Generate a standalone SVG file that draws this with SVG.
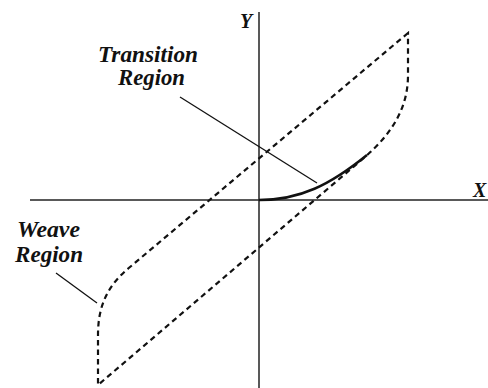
<svg xmlns="http://www.w3.org/2000/svg" width="488" height="388" viewBox="0 0 488 388">
<style>
.axis{stroke:#222;stroke-width:1.5;fill:none}
.dash{stroke:#111;stroke-width:2.2;fill:none;stroke-dasharray:5.5 4}
.solid{stroke:#111;stroke-width:2.5;fill:none}
.lead{stroke:#111;stroke-width:1.3;fill:none}
.lbl{font-family:"Liberation Serif","Times New Roman",serif;font-style:italic;font-weight:bold;font-size:23px;fill:#111}
.ax{font-family:"Liberation Serif","Times New Roman",serif;font-style:italic;font-weight:bold;font-size:20px;fill:#111}
</style>
<rect width="488" height="388" fill="#fff"/>
<g id="axes">
<line class="axis" x1="259" y1="12" x2="259" y2="388"/>
<line class="axis" x1="30" y1="200" x2="488" y2="200"/>
<text class="ax" x="240" y="28">Y</text>
<text class="ax" x="473" y="197">X</text>
</g>
<g id="loop">
<path class="dash" d="M408,33 L130,267 C108,285 98,305 98,335 L98,385 L365,157 C390,135 408,110 408,75 Z"/>
</g>
<g id="transition-curve">
<path class="solid" d="M259,200 C300,200 330,185 367,155"/>
</g>
<g id="connectors">
<line class="lead" x1="180" y1="97" x2="317" y2="183"/>
<line class="lead" x1="56" y1="273" x2="97" y2="303"/>
</g>
<g id="transition-label">
<text class="lbl" x="98" y="62" textLength="100" lengthAdjust="spacingAndGlyphs">Transition</text>
<text class="lbl" x="118" y="85" textLength="67" lengthAdjust="spacingAndGlyphs">Region</text>
</g>
<g id="weave-label">
<text class="lbl" x="17" y="237" textLength="63" lengthAdjust="spacingAndGlyphs">Weave</text>
<text class="lbl" x="15" y="262" textLength="68" lengthAdjust="spacingAndGlyphs">Region</text>
</g>
</svg>
